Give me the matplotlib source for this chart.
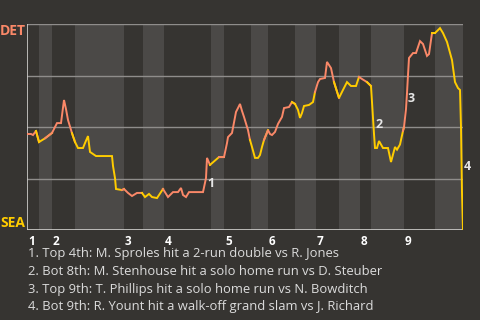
import numpy as np
import matplotlib
matplotlib.use("Agg")
import matplotlib.pyplot as plt

# play position (x) and DET win probability (%)
play_x = [0, 4, 6, 9, 12, 18, 25, 28, 30, 34, 37, 39, 41, 45, 48,
          51, 56, 58, 61, 63, 69, 85, 86, 88, 89, 95, 97,
          101, 105, 110, 115, 118, 122, 125, 130, 136,
          141, 146, 151, 154, 156, 159, 162, 176, 179, 180, 183,
          192, 197, 200, 201, 203, 205, 209, 211, 213, 215, 217, 221, 223,
          225, 228, 231, 233, 235, 237, 241,
          243, 245, 248, 251, 255, 257, 262, 265, 268,
          271, 273, 275, 277, 282, 286, 288,
          291, 293, 298, 300, 304, 307, 312,
          316, 320, 324, 329, 332, 335, 340, 344,
          346, 347, 348, 350, 352, 356, 361, 364, 368, 370, 373, 376, 377,
          379, 380, 381, 382, 386, 389, 393, 396, 400, 402, 405, 408,
          413, 416, 420, 425, 428, 431, 433, 434, 435, 436]
det_wp = [46.6, 46.6, 46.1, 48.1, 42.7, 44.5, 47.1, 50.0, 51.9, 51.9, 63.1, 58.7, 53.4, 47.0, 42.7,
          39.8, 39.8, 42.2, 45.6, 37.9, 35.9, 35.9, 31.1, 25.2, 19.9, 19.4, 19.9,
          18.0, 16.5, 18.0, 18.0, 16.0, 17.5, 16.0, 15.5, 19.9,
          16.0, 18.4, 18.4, 20.4, 17.0, 16.0, 18.4, 18.4, 25.2, 35.0, 31.6,
          35.4, 35.4, 42.2, 45.1, 46.1, 47.1, 57.3, 59.2, 61.2, 57.8, 54.9, 48.5, 43.7,
          40.3, 35.0, 35.0, 36.4, 40.3, 43.7, 48.5,
          46.6, 46.1, 47.6, 51.5, 54.9, 59.2, 59.7, 62.1, 61.2,
          58.3, 54.4, 56.8, 60.2, 60.7, 62.1, 67.0,
          71.8, 73.3, 73.8, 81.6, 78.6, 71.8, 64.1,
          68.0, 71.8, 69.9, 69.9, 74.3, 73.3, 71.8, 69.9,
          54.4, 46.6, 39.8, 39.8, 43.2, 39.8, 39.8, 33.0, 40.3, 39.0, 41.5, 48.1, 50.0,
          58.7, 66.5, 75.2, 83.5, 85.9, 85.9, 91.7, 90.3, 84.5, 85.4, 95.6, 95.6,
          98.0, 95.6, 91.3, 82.5, 71.8, 68.9, 68.0, 50.0, 18.0, 0.0]

# start of each half inning (top, bottom, top, ...) and end of game
half_starts = [0, 12, 25, 48, 97, 116, 137, 184, 197, 224, 241, 268,
               289, 312, 333, 344, 377, 408, 436]
innings = ["1", "2", "3", "4", "5", "6", "7", "8", "9"]

events = ["1", "2", "3", "4"]
event_pos = [(184, 22.8), (352, 51), (384, 63.6), (440, 30.6)]
captions = [
    "1. Top 4th: M. Sproles hit a 2-run double vs R. Jones",
    "2. Bot 8th: M. Stenhouse hit a solo home run vs D. Steuber",
    "3. Top 9th: T. Phillips hit a solo home run vs N. Bowditch",
    "4. Bot 9th: R. Yount hit a walk-off grand slam vs J. Richard",
]

BG = "#363431"
BAND = "#4b4947"
DET_C = "#fa8868"
SEA_C = "#ffcc00"
FONT = ["Open Sans", "DejaVu Sans"]

fig = plt.figure(figsize=(4.8, 3.2), dpi=100, facecolor=BG)
ax = fig.add_axes([27 / 480, 90 / 320, 436 / 480, 206 / 320])
ax.set_facecolor(BG)
ax.set_xlim(half_starts[0], half_starts[-1])
ax.set_ylim(0, 100)

# bottom halves get a lighter band
for i in range(1, len(half_starts) - 1, 2):
    ax.axvspan(half_starts[i], half_starts[i + 1], color=BAND, lw=0, zorder=0)

for y in [25, 50, 75, 100]:
    ax.axhline(y, color="#8f8d8b", lw=1, zorder=1)
ax.axhline(0, color="#d0cfcd", lw=1.2, zorder=1)
ax.axvline(0, color="#d0cfcd", lw=1.2, zorder=1)

px = np.array(play_x)
wp = np.array(det_wp)
for i in range(len(half_starts) - 1):
    a, b = half_starts[i], half_starts[i + 1]
    idx = np.where((px >= a) & (px <= b))[0]
    if idx[0] > 0:
        idx = np.r_[idx[0] - 1, idx]
    color = DET_C if i % 2 == 0 else SEA_C
    ax.plot(px[idx], wp[idx], color=color, lw=1.4, zorder=3,
            solid_joinstyle="miter")

for lab, (ex, ey) in zip(events, event_pos):
    ax.text(ex, ey, lab, color="#e6e6e6", fontsize=9, fontweight="bold",
            ha="center", va="center", family=FONT, zorder=4)

for k, lab in enumerate(innings):
    ax.text(half_starts[2 * k] + 1, -2.5, lab, color="white", fontsize=8.5,
            fontweight="bold", ha="left", va="top", family=FONT)

ax.text(-1.5, 100, "DET", color=DET_C, fontsize=10, fontweight="bold",
        ha="right", va="top", family=FONT)
ax.text(-1.5, 0, "SEA", color=SEA_C, fontsize=10, fontweight="bold",
        ha="right", va="bottom", family=FONT)

for j, cap in enumerate(captions):
    fig.text(28 / 480, 1 - (254 + 17.6 * j) / 320, cap, color="#dcdcdc",
             fontsize=9.4, ha="left", va="center", family=FONT)

ax.set_xticks([])
ax.set_yticks([])
for s in ax.spines.values():
    s.set_visible(False)

fig.savefig("out.png", dpi=100, facecolor=BG)
